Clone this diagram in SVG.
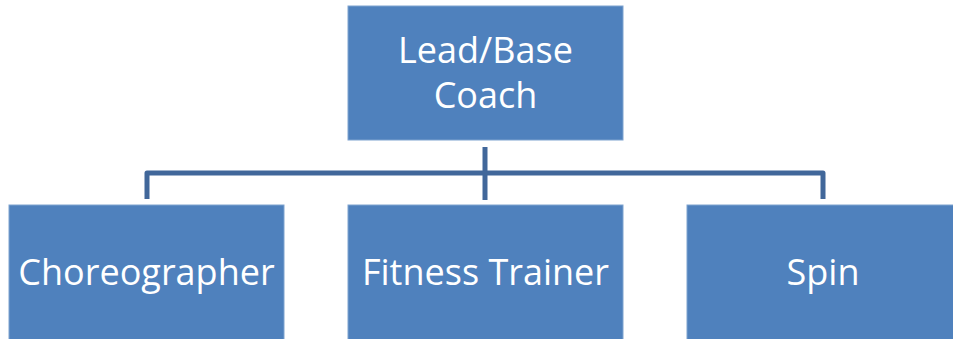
<svg xmlns="http://www.w3.org/2000/svg" width="953" height="339" viewBox="0 0 953 339">
<style>
.box{fill:#4F81BD;stroke:#7FA3CF;stroke-width:1}
.t{font-family:"Open Sans","Liberation Sans",sans-serif;font-size:36px;fill:#FFFFFF;text-anchor:middle}
.c{fill:none;stroke:#41679A;stroke-width:5;stroke-linejoin:round}
</style>
<rect width="953" height="339" fill="#FFFFFF"/>
<g id="connectors">
<path class="c" d="M485,147 V200"/>
<path class="c" d="M147,199 V173 H823 V199"/>
</g>
<g id="lead">
<rect class="box" x="348" y="6" width="275" height="134"/>
<text class="t" x="485.5" y="63">Lead/Base</text>
<text class="t" x="485.5" y="108">Coach</text>
</g>
<g id="choreographer">
<rect class="box" x="9" y="205" width="275" height="140"/>
<text class="t" x="146.5" y="285">Choreographer</text>
</g>
<g id="fitness">
<rect class="box" x="348" y="205" width="275" height="140"/>
<text class="t" x="485.5" y="285">Fitness Trainer</text>
</g>
<g id="spin">
<rect class="box" x="687" y="205" width="275" height="140"/>
<text class="t" x="823" y="285">Spin</text>
</g>
</svg>
